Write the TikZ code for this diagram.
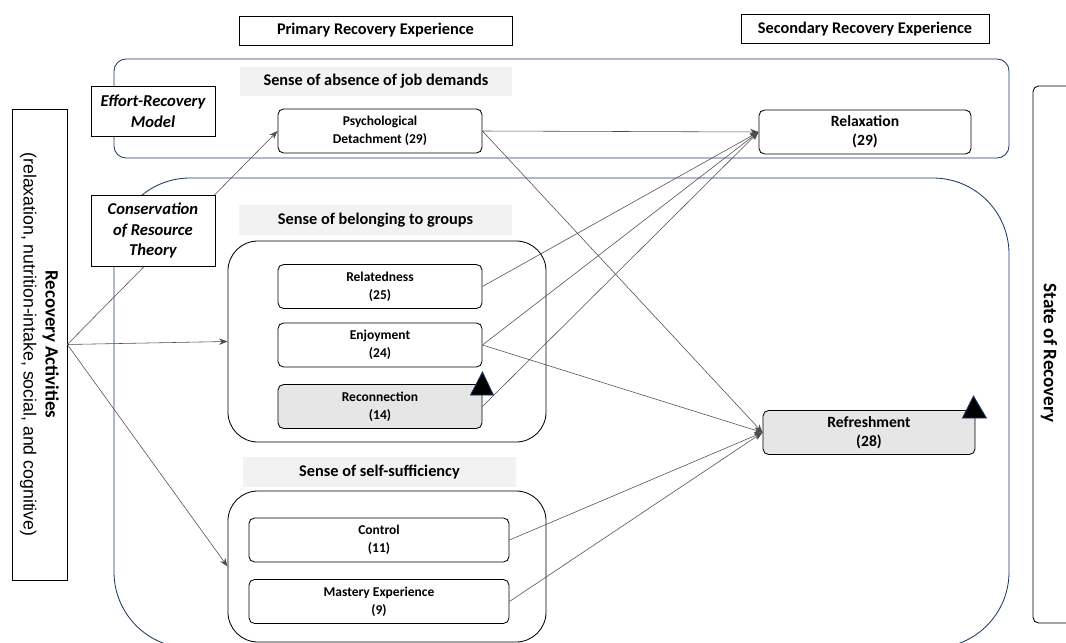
\documentclass[tikz,border=0pt]{standalone}
\usepackage{fontspec}
\setmainfont{Carlito}
\newfontfamily\arialfont{Liberation Sans}
\usetikzlibrary{arrows.meta}
\definecolor{navy1}{RGB}{31,56,100}
\definecolor{bandgray}{RGB}{242,242,242}
\definecolor{shade}{RGB}{230,230,230}

\begin{document}
\begin{tikzpicture}[x=0.025cm,y=-0.025cm,
    region/.style={draw=navy1,line width=0.6pt},
    band/.style={fill=bandgray,minimum width=6.8cm,minimum height=0.725cm,font=\fontsize{11.6}{13}\selectfont\bfseries},
    group/.style={draw,line width=0.6pt,rounded corners=0.75cm,minimum width=7.95cm},
    item/.style={draw,fill=white,rounded corners=4pt,line width=0.6pt,minimum width=5.1cm,minimum height=1.1cm,align=center,font=\fontsize{9.6}{12.5}\selectfont\bfseries},
    outcome/.style={item,minimum width=5.3cm,font=\fontsize{11.1}{13.5}\selectfont\bfseries},
    header/.style={draw,fill=white,minimum height=0.725cm,font=\fontsize{11.6}{13}\selectfont\bfseries},
    theory/.style={draw,fill=white,minimum width=3.1cm,align=center,font=\fontsize{11.8}{14.8}\selectfont\bfseries\itshape},
    link/.style={black!70,line width=0.4pt,-{Stealth[length=6pt,width=4.5pt]}},
    marker/.style={fill=black,draw=navy1,line width=0.6pt}]
    \useasboundingbox (0,0) rectangle (1066,643);

    % the two outer regions
    \draw[region,rounded corners=0.3cm] (114,59) rectangle (1009,158);
    \draw[region,rounded corners=1.9cm] (114,178) rectangle (1009,648);

    % column headers
    \node[header,minimum width=6.825cm] (primary) at (375.5,30.5) {Primary Recovery Experience};
    \node[header,minimum width=6.2cm] (secondary) at (865,29) {Secondary Recovery Experience};

    % grey captions
    \node[band] (absence) at (376,81.5) {Sense of absence of job demands};
    \node[band] (belonging) at (375.5,220) {Sense of belonging to groups};
    \node[band] (selfsuff) at (379.5,472) {Sense of self-sufficiency};

    % groups
    \node[group,minimum height=5.025cm] (g1) at (387,341.5) {};
    \node[group,minimum height=3.775cm] (g2) at (387,566.5) {};

    % primary experiences
    \node[item] (pd) at (380,131) {Psychological\\Detachment (29)};
    \node[item] (rel) at (380,286.5) {Relatedness\\(25)};
    \node[item] (enj) at (380,345) {Enjoyment\\(24)};
    \node[item,fill=shade] (rec) at (380,406.5) {Reconnection\\(14)};
    \node[item,minimum width=6.5cm] (ctl) at (379,540) {Control\\(11)};
    \node[item,minimum width=6.5cm] (mas) at (379,601.5) {Mastery Experience\\(9)};

    % secondary experiences
    \node[outcome] (relax) at (865,132) {Relaxation\\(29)};
    \node[outcome,fill=shade] (refresh) at (869,432.5) {Refreshment\\(28)};

    % side boxes
    \node[draw,fill=white,rotate=-90,minimum width=11.775cm,minimum height=1.375cm,align=center,font=\fontsize{13.4}{15.6}\selectfont] (ra) at (39.5,344.5)
        {{\bfseries Recovery Activities}\\{\arialfont\fontsize{12.6}{15.6}\selectfont(relaxation, nutrition-intake, social, and cognitive)}};
    \draw[rounded corners=4pt,line width=0.6pt] (1033,86) rectangle (1090,623);
    \node[rotate=-90,font=\fontsize{13.6}{15}\selectfont\bfseries] (sor) at (1049,353) {State of Recovery};

    % links
    \draw[link] (ra.north) -- (pd.west);
    \draw[link] (ra.north) -- (g1.west);
    \draw[link] (ra.north) -- (g2.west);
    \draw[link] (pd.east) -- (relax.west);
    \draw[link] (pd.east) -- (refresh.west);
    \draw[link] (rel.east) -- (relax.west);
    \draw[link] (enj.east) -- (relax.west);
    \draw[link] (enj.east) -- (refresh.west);
    \draw[link] (rec.east) -- (relax.west);
    \draw[link] (ctl.east) -- (refresh.west);
    \draw[link] (mas.east) -- (refresh.west);

    % theories
    \node[theory,minimum height=1.25cm] (erm) at (153,111) {Effort-Recovery\\Model};
    \node[theory,minimum height=1.775cm] (cor) at (153,230.5) {Conservation\\of Resource\\Theory};

    % markers
    \filldraw[marker] ([shift={(0,-12)}]rec.north east) -- ([shift={(-12,11)}]rec.north east) -- ([shift={(11,11)}]rec.north east) -- cycle;
    \filldraw[marker] ([shift={(-2,-14)}]refresh.north east) -- ([shift={(-13,8)}]refresh.north east) -- ([shift={(11,8)}]refresh.north east) -- cycle;
\end{tikzpicture}
\end{document}
